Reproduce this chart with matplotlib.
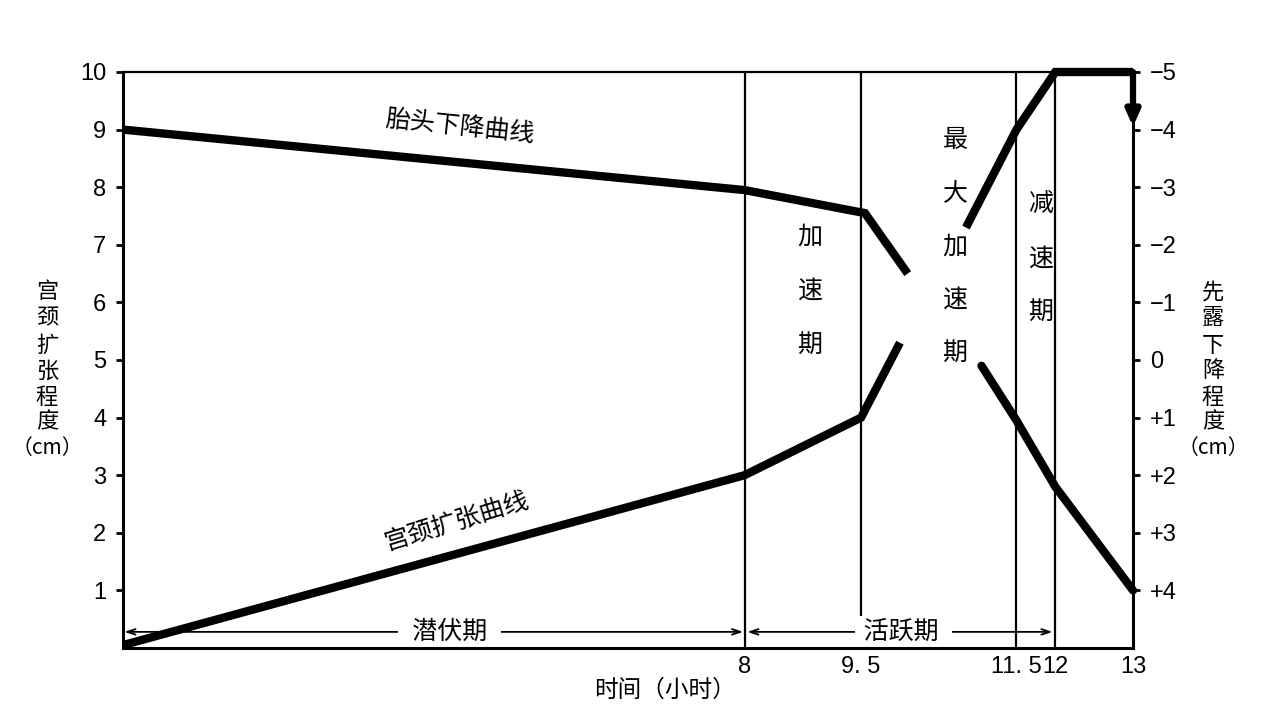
import matplotlib
matplotlib.use("Agg")
import matplotlib.pyplot as plt

# ---------------- data ----------------
# cervical dilation (cm), drawn in two pieces around the "最大加速期" label
dil_hours_a = [0, 8, 9.5, 10.0]
dil_cm_a = [0.05, 3, 4, 5.3]
dil_hours_b = [10.85, 11.5, 12, 13]
dil_cm_b = [7.3, 9.0, 10, 10]

# fetal head station (cm, right axis), two pieces
desc_hours_a = [0, 8, 9.55, 10.1]
desc_station_a = [-4, -2.95, -2.55, -1.5]
desc_hours_b = [11.05, 11.5, 12, 13]
desc_station_b = [0.1, 1.05, 2.2, 4]

phase_bounds = [8, 9.5, 11.5, 12]
x_ticks = [8, 9.5, 11.5, 12, 13]
x_labels = ["8", "9. 5", "11. 5", "12", "13"]
left_ticks = [1, 2, 3, 4, 5, 6, 7, 8, 9, 10]
right_ticks = [-5, -4, -3, -2, -1, 0, 1, 2, 3, 4]
right_labels = ["−5", "−4", "−3", "−2", "−1", "0", "+1", "+2", "+3", "+4"]

CJK = ["Noto Sans CJK SC", "DejaVu Sans"]
NUM = ["Liberation Sans", "Noto Sans CJK SC", "DejaVu Sans"]

fig = plt.figure(figsize=(12.8, 7.2), dpi=100)
ax = fig.add_axes([123 / 1280, 1 - 648 / 720, (1133 - 123) / 1280, (648 - 72) / 720])
ax.set_xlim(0, 13)
ax.set_ylim(0, 10)

for s in ["left", "bottom", "right"]:
    ax.spines[s].set_linewidth(2.2)
    ax.spines[s].set_zorder(6)
ax.spines["top"].set_linewidth(1.6)
ax.spines["top"].set_zorder(6)

ax.set_yticks(left_ticks)
ax.set_yticklabels([str(t) for t in left_ticks], fontfamily=NUM, fontsize=17)
ax.tick_params(axis="y", direction="out", length=5, width=2, pad=7)
ax.set_xticks(x_ticks)
ax.set_xticklabels(x_labels, fontfamily=NUM, fontsize=17)
ax.tick_params(axis="x", length=0, pad=6)

ax2 = ax.twinx()
ax2.set_ylim(5, -5)
ax2.set_yticks(right_ticks)
ax2.set_yticklabels(right_labels, fontfamily=NUM, fontsize=17)
ax2.tick_params(axis="y", direction="out", length=5, width=2, pad=7)
for s in ax2.spines.values():
    s.set_visible(False)

# phase boundary lines
for xb in phase_bounds:
    ax.plot([xb, xb], [0, 10], color="black", lw=1.6, zorder=2)

# curves
lw = 6
ax.plot(dil_hours_a, dil_cm_a, color="black", lw=lw, solid_capstyle="butt",
        solid_joinstyle="miter", clip_on=False, zorder=4)
ax.plot(dil_hours_b, dil_cm_b, color="black", lw=lw, solid_capstyle="butt",
        solid_joinstyle="miter", clip_on=False, zorder=4)
ax2.plot(desc_hours_a, desc_station_a, color="black", lw=lw, solid_capstyle="butt",
         solid_joinstyle="miter", clip_on=False, zorder=4)
ax2.plot(desc_hours_b, desc_station_b, color="black", lw=lw, solid_capstyle="round",
         solid_joinstyle="miter", clip_on=False, zorder=4)

# downward arrow at the end (fetal head starts at -4)
ax2.annotate("", xy=(13, -4.05), xytext=(13, -5),
             arrowprops=dict(arrowstyle="-|>,head_length=0.9,head_width=0.4",
                             lw=4.5, color="black", shrinkA=0, shrinkB=0),
             annotation_clip=False, zorder=5)

# phase arrows along the bottom
arr_y = 0.28
ax.annotate("", xy=(0, arr_y), xytext=(8, arr_y),
            arrowprops=dict(arrowstyle="<->,head_length=0.6,head_width=0.2", lw=1.3,
                            color="black", shrinkA=1, shrinkB=1), zorder=3)
ax.annotate("", xy=(8, arr_y), xytext=(12, arr_y),
            arrowprops=dict(arrowstyle="<->,head_length=0.6,head_width=0.2", lw=1.3,
                            color="black", shrinkA=2, shrinkB=2), zorder=3)
ax.text(4.2, arr_y, "  潜伏期  ", fontfamily=CJK, fontsize=18, ha="center", va="center",
        bbox=dict(facecolor="white", edgecolor="none", pad=2), zorder=3.5)
ax.text(10.05, arr_y, " 活跃期  ", fontfamily=CJK, fontsize=18, ha="center", va="center",
        bbox=dict(facecolor="white", edgecolor="none", pad=2), zorder=3.5)

# curve labels
ax.text(4.34, 9.05, "胎头下降曲线", fontfamily=CJK, fontsize=18, ha="center",
        va="center", rotation=-6)
ax.text(4.3, 2.2, "宫颈扩张曲线", fontfamily=CJK, fontsize=18, ha="center",
        va="center", rotation=17)


def vtext(px, py_list, chars, size=18):
    for py, ch in zip(py_list, chars):
        fig.text(px / 1280, 1 - py / 720, ch, fontfamily=CJK, fontsize=size,
                 ha="center", va="center")


vtext(810, [237, 291, 345], "加速期")
vtext(955, [140, 193, 247, 300, 353], "最大加速期")
vtext(1041, [205, 259, 312], "减速期")

# axis titles (stacked vertically)
vtext(47, [292, 318, 345, 371, 397, 422], "宫颈扩张程度", size=16)
fig.text(47 / 1280, 1 - 448 / 720, "（cm）", fontfamily=CJK, fontsize=15,
         ha="center", va="center")
vtext(1213, [292, 318, 345, 371, 397, 422], "先露下降程度", size=16)
fig.text(1213 / 1280, 1 - 448 / 720, "（cm）", fontfamily=CJK, fontsize=15,
         ha="center", va="center")

fig.text(665 / 1280, 1 - 690 / 720, "时间（小时）", fontfamily=CJK, fontsize=17,
         ha="center", va="center")

fig.savefig("out.png", dpi=100, facecolor="white")
